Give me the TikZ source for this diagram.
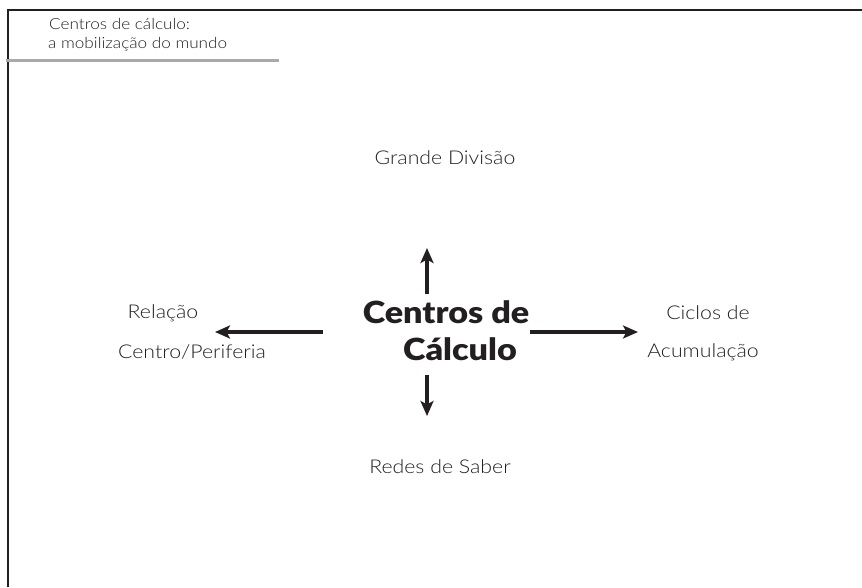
\documentclass[tikz,border=0pt]{standalone}
\usepackage{fontspec}
\setmainfont{Lato Light}[FakeStretch=1.12]
\newfontfamily\boldf{Lato Black}[FakeStretch=1.12]
\usetikzlibrary{arrows.meta}
\definecolor{inkc}{HTML}{231F20}
\definecolor{rulegray}{HTML}{A7A9AC}
\tikzset{
  lbl/.style={inner sep=0pt, text=inkc, font=\fontsize{19}{23}\selectfont},
  hdr/.style={inner sep=0pt, anchor=west, text=inkc, font=\fontsize{15.3}{18}\selectfont},
  bigl/.style={inner sep=0pt, text=inkc, font=\boldf\fontsize{30.5}{36}\selectfont},
  arr/.style={draw=inkc, line width=3.2pt, -{Stealth[length=15pt,width=13pt,inset=3.5pt]}},
  frame/.style={draw=inkc, line width=1.3pt}
}
\begin{document}
\begin{tikzpicture}[x=1pt,y=-1pt]
\useasboundingbox (0,0) rectangle (862,587);
\coordinate (fa) at (8,587);
\coordinate (fb) at (8,10);
\coordinate (fc) at (862,10);
\draw[frame] (fa) -- (fb) -- (fc);
\coordinate (ga) at (6,60);
\coordinate (gb) at (279,60);
\draw[draw=rulegray, line width=3pt] (ga) -- (gb);
\node[hdr] (h1) at (49,24) {Centros de cálculo:};
\node[hdr] (h2) at (48,44) {a mobilização do mundo};
\node[lbl] (gd) at (445,158) {Grande Divisão};
\node[lbl] (rs) at (440,467) {Redes de Saber};
\node[lbl] (r1) at (163,313) {Relação};
\node[lbl] (r2) at (192,352) {Centro/Periferia};
\node[lbl] (c1) at (708,313) {Ciclos de};
\node[lbl] (c2) at (703,352) {Acumulação};
\node[bigl] (b1) at (446,312) {Centros de};
\node[bigl] (b2) at (460,349) {Cálculo};
\coordinate (us) at (427,294);
\coordinate (ut) at (427,248);
\coordinate (ds) at (427,375);
\coordinate (dt) at (427,416);
\coordinate (ls) at (323,332);
\coordinate (lt) at (215,332);
\coordinate (rsx) at (530,332);
\coordinate (rt) at (638,332);
\draw[arr] (us) -- (ut);
\draw[arr] (ds) -- (dt);
\draw[arr] (ls) -- (lt);
\draw[arr] (rsx) -- (rt);
\end{tikzpicture}
\end{document}
